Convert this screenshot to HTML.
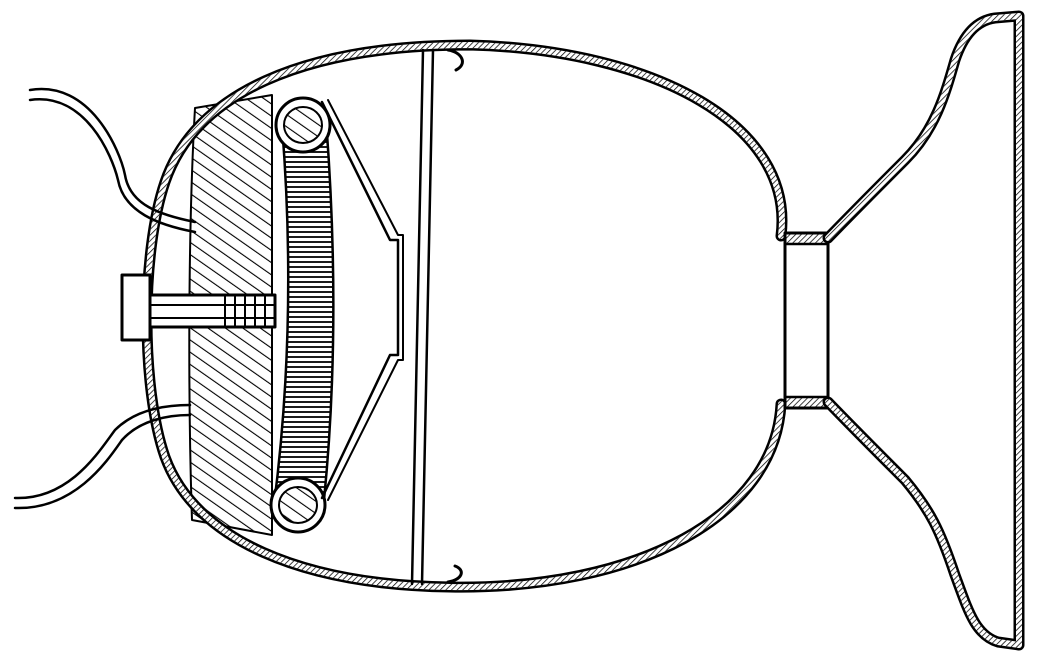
<!DOCTYPE html>
<html><head><meta charset="utf-8"><style>
html,body{margin:0;padding:0;background:#fff;width:1038px;height:666px;overflow:hidden}
</style></head><body>
<svg width="1038" height="666" viewBox="0 0 1038 666" xmlns="http://www.w3.org/2000/svg">
<defs>
<pattern id="diag" width="10" height="10" patternUnits="userSpaceOnUse" patternTransform="rotate(-55)">
<line x1="0" y1="0" x2="0" y2="10" stroke="#000" stroke-width="2.2"/></pattern>
<pattern id="horiz" width="6" height="5" patternUnits="userSpaceOnUse">
<line x1="0" y1="2" x2="6" y2="2" stroke="#000" stroke-width="1.8"/></pattern>
<pattern id="shellhatch" width="4" height="4" patternUnits="userSpaceOnUse" patternTransform="rotate(45)">
<line x1="0" y1="0" x2="0" y2="4" stroke="#000" stroke-width="1.5"/></pattern>
</defs>
<g fill="none" stroke="#000" stroke-linejoin="round" stroke-linecap="round">
<!-- magnet block -->
<path d="M195,108 L272,95 L272,535 L192,520 C188,400 188,230 195,108 Z" fill="url(#diag)" stroke-width="2"/>
<!-- coil -->
<path d="M282,125 L326,120 C336,250 336,380 324,500 L274,505 C290,380 292,250 282,125 Z" fill="url(#horiz)" stroke-width="2.5"/>
<ellipse cx="303" cy="125" rx="27" ry="27" fill="#fff" stroke-width="3"/>
<ellipse cx="303" cy="125" rx="19" ry="18" fill="url(#diag)" stroke-width="2"/>
<ellipse cx="298" cy="505" rx="27" ry="27" fill="#fff" stroke-width="3"/>
<ellipse cx="298" cy="505" rx="19" ry="18" fill="url(#diag)" stroke-width="2"/>
<!-- bracket -->
<path d="M322,102 L390,240 L398,240 L398,355 L390,355 L322,498" stroke-width="2.5"/>
<path d="M328,100 L398,235 L403,235 L403,360 L398,360 L328,500" stroke-width="2"/>
<!-- shell band -->
<g>
<path id="shellp" d="M781,236 C795,125 655,50 470,45 C302,45 195,94 165,182 C141,252 141,388 165,457 C195,540 302,585 450,587 C638,590 775,516 781,404" stroke-width="11"/>
<path d="M781,236 C795,125 655,50 470,45 C302,45 195,94 165,182 C141,252 141,388 165,457 C195,540 302,585 450,587 C638,590 775,516 781,404" stroke="#fff" stroke-width="6"/>
<path d="M781,236 C795,125 655,50 470,45 C302,45 195,94 165,182 C141,252 141,388 165,457 C195,540 302,585 450,587 C638,590 775,516 781,404" stroke="url(#shellhatch)" stroke-width="6"/>
</g>
<!-- divider -->
<path d="M423,50 L412,584 M433,50 L422,584" stroke-width="2.5"/>
<path d="M448,50 C462,52 468,64 456,70 M448,582 C462,580 466,570 455,566" stroke-width="3"/>
<!-- neck -->
<g>
<rect x="785" y="233" width="43" height="175" stroke-width="3" fill="#fff"/>
<rect x="785" y="233" width="43" height="11" fill="url(#shellhatch)" stroke-width="2.5"/>
<rect x="785" y="397" width="43" height="11" fill="url(#shellhatch)" stroke-width="2.5"/>
</g>
<!-- mouthpiece flare -->
<g>
<path d="M828,238 C860,205 885,180 905,160 C935,130 945,95 955,60 C965,30 980,20 995,18 L1019,16 L1019,645 L998,642 C975,635 968,610 955,575 C940,530 930,510 905,480 C880,455 855,430 828,402" stroke-width="11"/>
<path d="M828,238 C860,205 885,180 905,160 C935,130 945,95 955,60 C965,30 980,20 995,18 L1019,16 L1019,645 L998,642 C975,635 968,610 955,575 C940,530 930,510 905,480 C880,455 855,430 828,402" stroke="#fff" stroke-width="6"/>
<path d="M828,238 C860,205 885,180 905,160 C935,130 945,95 955,60 C965,30 980,20 995,18 L1019,16 L1019,645 L998,642 C975,635 968,610 955,575 C940,530 930,510 905,480 C880,455 855,430 828,402" stroke="url(#shellhatch)" stroke-width="6"/>
</g>
<!-- wires -->
<path d="M30,90 C90,80 120,150 125,175 C130,205 160,215 195,222" stroke-width="2.5"/>
<path d="M30,100 C85,92 112,155 118,180 C124,212 158,225 195,232" stroke-width="2.5"/>
<path d="M15,498 C70,500 100,450 115,430 C135,410 165,405 190,405" stroke-width="2.5"/>
<path d="M15,508 C75,510 108,460 122,440 C140,420 168,415 190,415" stroke-width="2.5"/>
<!-- screw -->
<rect x="122" y="275" width="28" height="65" fill="#fff" stroke-width="3"/>
<rect x="150" y="295" width="125" height="32" fill="#fff" stroke-width="3"/>
<path d="M150,305 L275,305 M150,318 L275,318 M225,295 L225,327 M235,295 L235,327 M245,295 L245,327 M255,295 L255,327 M265,295 L265,327" stroke-width="2"/>
</g>
</svg>
</body></html>
